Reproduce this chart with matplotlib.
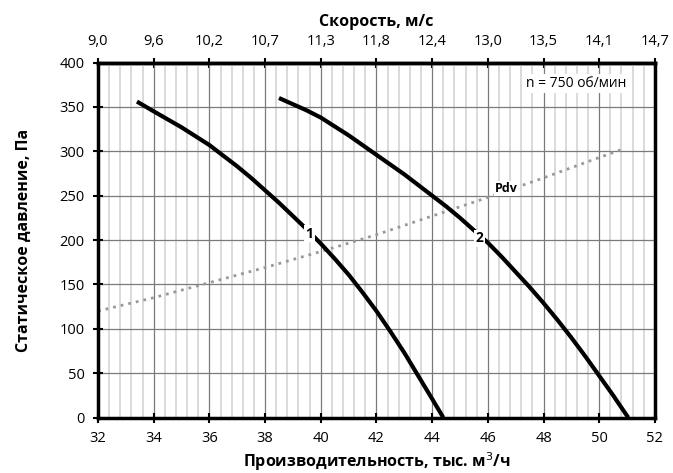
import numpy as np
import matplotlib.pyplot as plt

plt.rcParams['font.family'] = ['Open Sans', 'DejaVu Sans']

# кривые вентилятора (тыс. м3/ч, Па)
q1 = [33.4, 34.0, 34.5, 35.0, 35.5, 36.0, 36.5, 37.0, 37.5, 38.0, 38.5, 39.0, 39.5,
      40.0, 40.5, 41.0, 41.5, 42.0, 42.5, 43.0, 43.5, 44.0, 44.4]
p1 = [356, 345, 336, 327, 317, 307, 295, 283, 270, 256, 242, 227, 212,
      196, 179, 161, 141, 120, 97, 73, 47, 21, 0]
q2 = [38.5, 39.0, 39.5, 40.0, 40.5, 41.0, 41.5, 42.0, 42.5, 43.0, 43.5, 44.0, 44.5,
      45.0, 45.5, 46.0, 46.5, 47.0, 47.5, 48.0, 48.5, 49.0, 49.5, 50.0, 50.5, 51.04]
p2 = [360, 353, 346, 338, 328, 318, 307, 296, 285, 274, 262, 250, 238,
      225, 211, 197, 181, 164, 147, 129, 110, 90, 69, 47, 25, 0]
# динамическое давление
q_pdv = [32, 34, 36, 38, 40, 42, 44, 46, 48, 50, 50.9]
p_pdv = [120, 135, 152, 169, 187, 206, 227, 248, 270, 293, 303]

x_ticks = np.arange(32, 53, 2)
speed_labels = ['9,0', '9,6', '10,2', '10,7', '11,3', '11,8', '12,4', '13,0', '13,5', '14,1', '14,7']

fig = plt.figure(figsize=(6.73, 4.73), dpi=100)
ax = fig.add_axes([0.1456, 0.1173, 0.8275, 0.7505])

ax.set_xlim(32, 52)
ax.set_ylim(0, 400)
ax.set_xticks(x_ticks)
ax.set_xticks(np.arange(32, 52.01, 0.4), minor=True)
ax.set_yticks(np.arange(0, 401, 50))

ax.grid(which='minor', axis='x', color='#d4d4d4', lw=1.2)
ax.grid(which='major', axis='x', color='#7a7a7a', lw=0.9)
ax.grid(which='major', axis='y', color='#7a7a7a', lw=0.9)
ax.set_axisbelow(True)

ax.plot(q_pdv, p_pdv, color='#999999', lw=2, ls=(0, (1, 1.8)), zorder=2)
ax.plot(q1, p1, color='black', lw=3, zorder=3, solid_capstyle='butt', solid_joinstyle='round')
ax.plot(q2, p2, color='black', lw=3, zorder=3, solid_capstyle='butt', solid_joinstyle='round')

box = dict(boxstyle='square,pad=0.1', fc='white', ec='none')
ax.text(39.6, 207, '1', fontsize=10, fontweight='bold', ha='center', va='center', bbox=box, zorder=4)
ax.text(45.7, 202, '2', fontsize=10, fontweight='bold', ha='center', va='center', bbox=box, zorder=4)
ax.text(46.66, 258, 'Pdv', fontsize=9, fontweight='bold', ha='center', va='center', bbox=box, zorder=4)
ax.text(49.16, 376, 'n = 750 об/мин', fontsize=10, ha='center', va='center',
        bbox=dict(boxstyle='square,pad=0.15', fc='white', ec='none'), zorder=4)

for s in ax.spines.values():
    s.set_linewidth(2.5)

ax.tick_params(which='major', direction='inout', length=7, width=1.5, labelsize=10.5)
ax.tick_params(axis='x', pad=6)
ax.tick_params(axis='y', pad=6)
ax.tick_params(which='minor', length=0)

ax.set_xlabel('Производительность, тыс. м$^3$/ч', fontsize=11.5, fontweight='bold', labelpad=3)
ax.set_ylabel('Статическое давление, Па', fontsize=11.5, fontweight='bold', labelpad=20)

top = ax.secondary_xaxis('top')
top.set_xticks(x_ticks)
top.set_xticklabels(speed_labels)
top.tick_params(direction='inout', length=7, width=1.5, labelsize=10.5, pad=6)
top.spines['top'].set_linewidth(2.5)
top.set_xlabel('Скорость, м/с', fontsize=11.5, fontweight='bold', labelpad=6)

fig.savefig('out.png', dpi=100)
